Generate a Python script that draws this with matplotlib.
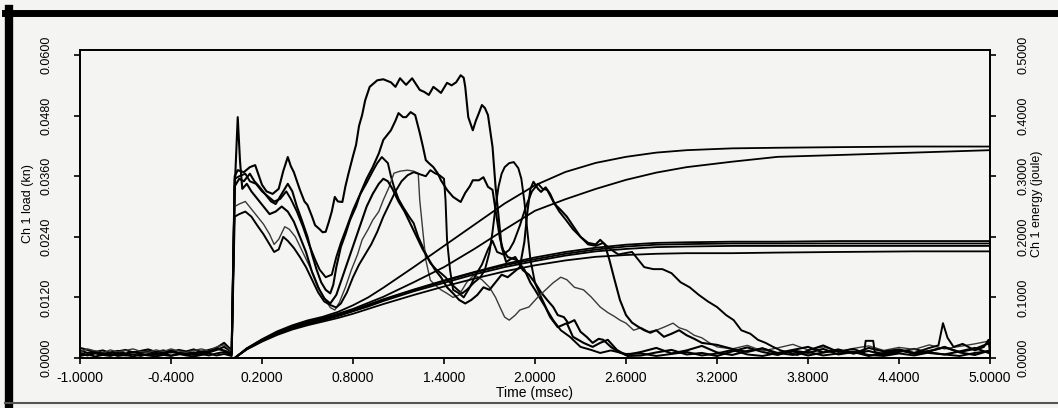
import matplotlib
matplotlib.use("Agg")
import matplotlib.pyplot as plt
import numpy as np
from matplotlib.lines import Line2D
from matplotlib.ticker import FormatStrFormatter

plt.rcParams['font.family'] = ['Liberation Sans', 'DejaVu Sans']

# ---- data (time in msec, load in kN, energy in J) ----
# pre-trigger time grid and baseline noise of each load trace
t_pre = np.linspace(-1.0, 0.0, 21)
pre_a = [0.0015, 0.0010, 0.0013, 0.0008, 0.0011, 0.0014, 0.0009, 0.0012, 0.0010, 0.0013, 0.0008,
         0.0011, 0.0015, 0.0010, 0.0012, 0.0009, 0.0013, 0.0011, 0.0016, 0.0022, 0.0012]
pre_b = [0.0020, 0.0016, 0.0012, 0.0015, 0.0010, 0.0013, 0.0016, 0.0011, 0.0014, 0.0017, 0.0012,
         0.0015, 0.0011, 0.0016, 0.0013, 0.0017, 0.0012, 0.0016, 0.0020, 0.0030, 0.0015]
pre_c = [0.0008, 0.0005, 0.0009, 0.0006, 0.0004, 0.0008, 0.0005, 0.0007, 0.0004, 0.0008, 0.0006,
         0.0009, 0.0005, 0.0007, 0.0010, 0.0006, 0.0008, 0.0005, 0.0009, 0.0012, 0.0006]
pre_d = [0.0012, 0.0018, 0.0014, 0.0010, 0.0016, 0.0012, 0.0015, 0.0018, 0.0013, 0.0011, 0.0016,
         0.0013, 0.0018, 0.0014, 0.0011, 0.0015, 0.0018, 0.0014, 0.0022, 0.0026, 0.0013]
pre_e = [0.0004, 0.0007, 0.0003, 0.0006, 0.0008, 0.0004, 0.0006, 0.0003, 0.0007, 0.0005, 0.0003,
         0.0006, 0.0004, 0.0008, 0.0005, 0.0003, 0.0006, 0.0009, 0.0005, 0.0008, 0.0004]
pre_f = [0.0010, 0.0006, 0.0011, 0.0009, 0.0006, 0.0010, 0.0007, 0.0012, 0.0008, 0.0006, 0.0010,
         0.0008, 0.0012, 0.0009, 0.0007, 0.0011, 0.0009, 0.0013, 0.0018, 0.0015, 0.0009]

# the six load traces after impact: (time, load)
trace_a = [(0.02, 0.0360), (0.04, 0.0372), (0.08, 0.0368), (0.12, 0.0378), (0.155, 0.0382),
           (0.18, 0.0360), (0.20, 0.0343), (0.23, 0.0330), (0.27, 0.0325), (0.31, 0.0335),
           (0.34, 0.0370), (0.37, 0.0398), (0.39, 0.0380), (0.41, 0.0368), (0.45, 0.0333),
           (0.48, 0.0310), (0.50, 0.0303), (0.53, 0.0280), (0.55, 0.0263), (0.58, 0.0255),
           (0.60, 0.0249), (0.62, 0.0250), (0.64, 0.0269), (0.66, 0.0290), (0.68, 0.0319),
           (0.70, 0.0310), (0.73, 0.0309), (0.75, 0.0340), (0.77, 0.0365), (0.80, 0.0400),
           (0.82, 0.0422), (0.84, 0.0460), (0.86, 0.0481), (0.88, 0.0510), (0.91, 0.0537),
           (0.96, 0.0550), (1.00, 0.0552), (1.05, 0.0546), (1.08, 0.0537), (1.11, 0.0554),
           (1.15, 0.0541), (1.19, 0.0554), (1.24, 0.0531), (1.27, 0.0527), (1.30, 0.0521),
           (1.33, 0.0537), (1.36, 0.0530), (1.38, 0.0525), (1.42, 0.0545), (1.45, 0.0540),
           (1.48, 0.0546), (1.51, 0.0560), (1.53, 0.0555), (1.54, 0.0537), (1.56, 0.0477),
           (1.59, 0.0451), (1.61, 0.0470), (1.63, 0.0485), (1.65, 0.0501), (1.67, 0.0495),
           (1.69, 0.0481), (1.72, 0.0418), (1.74, 0.0339), (1.76, 0.0279), (1.78, 0.0220),
           (1.81, 0.0190), (1.84, 0.0196), (1.87, 0.0200), (1.92, 0.0174), (1.96, 0.0165),
           (2.00, 0.0149), (2.04, 0.0130), (2.08, 0.0115), (2.12, 0.0101), (2.15, 0.0085),
           (2.19, 0.0081), (2.22, 0.0069), (2.26, 0.0075), (2.30, 0.0052), (2.34, 0.0042),
           (2.38, 0.0030), (2.42, 0.0038), (2.45, 0.0036), (2.50, 0.0022), (2.55, 0.0012),
           (2.60, 0.0006)]
trace_b = [(0.02, 0.0340), (0.05, 0.0355), (0.08, 0.0350), (0.12, 0.0365), (0.15, 0.0350),
           (0.18, 0.0340), (0.22, 0.0325), (0.26, 0.0310), (0.29, 0.0305), (0.33, 0.0325),
           (0.37, 0.0345), (0.40, 0.0330), (0.43, 0.0300), (0.46, 0.0275), (0.50, 0.0240),
           (0.53, 0.0205), (0.56, 0.0175), (0.59, 0.0150), (0.62, 0.0135), (0.65, 0.0128),
           (0.67, 0.0145), (0.69, 0.0180), (0.72, 0.0220), (0.75, 0.0245), (0.78, 0.0273),
           (0.82, 0.0300), (0.85, 0.0327), (0.89, 0.0355), (0.93, 0.0378), (0.97, 0.0405),
           (1.00, 0.0432), (1.05, 0.0451), (1.08, 0.0470), (1.10, 0.0485), (1.13, 0.0477),
           (1.15, 0.0477), (1.18, 0.0487), (1.21, 0.0481), (1.24, 0.0446), (1.26, 0.0420),
           (1.28, 0.0392), (1.30, 0.0386), (1.33, 0.0378), (1.36, 0.0365), (1.38, 0.0352),
           (1.42, 0.0333), (1.46, 0.0319), (1.51, 0.0309), (1.54, 0.0327), (1.57, 0.0340),
           (1.59, 0.0352), (1.63, 0.0352), (1.66, 0.0358), (1.69, 0.0339), (1.72, 0.0333),
           (1.75, 0.0273), (1.77, 0.0235), (1.79, 0.0214), (1.82, 0.0200), (1.88, 0.0194),
           (1.93, 0.0175), (1.97, 0.0149), (2.00, 0.0135), (2.04, 0.0115), (2.07, 0.0100),
           (2.10, 0.0081), (2.15, 0.0061), (2.21, 0.0069), (2.25, 0.0042), (2.32, 0.0030),
           (2.38, 0.0022), (2.43, 0.0030), (2.48, 0.0036), (2.54, 0.0016), (2.61, 0.0004)]
trace_c = [(0.02, 0.0355), (0.05, 0.0360), (0.09, 0.0365), (0.12, 0.0350), (0.16, 0.0345),
           (0.20, 0.0330), (0.24, 0.0320), (0.28, 0.0310), (0.32, 0.0315), (0.36, 0.0330),
           (0.39, 0.0315), (0.43, 0.0290), (0.47, 0.0260), (0.51, 0.0225), (0.55, 0.0195),
           (0.58, 0.0175), (0.62, 0.0160), (0.66, 0.0165), (0.69, 0.0200), (0.72, 0.0228),
           (0.76, 0.0260), (0.80, 0.0293), (0.84, 0.0320), (0.89, 0.0347), (0.93, 0.0370),
           (0.96, 0.0386), (0.99, 0.0398), (1.01, 0.0392), (1.03, 0.0386), (1.05, 0.0360),
           (1.07, 0.0339), (1.10, 0.0315), (1.13, 0.0299), (1.17, 0.0280), (1.20, 0.0267),
           (1.23, 0.0240), (1.26, 0.0220), (1.29, 0.0200), (1.31, 0.0188), (1.35, 0.0175),
           (1.38, 0.0168), (1.41, 0.0160), (1.44, 0.0149), (1.49, 0.0135), (1.52, 0.0128),
           (1.55, 0.0135), (1.60, 0.0150), (1.64, 0.0160), (1.67, 0.0175), (1.70, 0.0210),
           (1.72, 0.0250), (1.74, 0.0300), (1.76, 0.0340), (1.78, 0.0365), (1.80, 0.0378),
           (1.83, 0.0386), (1.86, 0.0388), (1.89, 0.0376), (1.91, 0.0355), (1.93, 0.0310),
           (1.95, 0.0250), (1.97, 0.0194), (2.00, 0.0149), (2.04, 0.0121), (2.08, 0.0095),
           (2.12, 0.0075), (2.17, 0.0055), (2.23, 0.0042), (2.30, 0.0022), (2.37, 0.0016),
           (2.43, 0.0010), (2.50, 0.0015), (2.60, 0.0008)]
trace_d = [(0.02, 0.0300), (0.05, 0.0305), (0.09, 0.0310), (0.13, 0.0295), (0.17, 0.0280),
           (0.21, 0.0265), (0.25, 0.0245), (0.28, 0.0225), (0.31, 0.0235), (0.35, 0.0260),
           (0.38, 0.0255), (0.42, 0.0240), (0.46, 0.0215), (0.50, 0.0190), (0.54, 0.0165),
           (0.58, 0.0135), (0.62, 0.0115), (0.65, 0.0100), (0.68, 0.0095), (0.71, 0.0110),
           (0.75, 0.0140), (0.79, 0.0175), (0.83, 0.0205), (0.86, 0.0234), (0.90, 0.0255),
           (0.93, 0.0273), (0.97, 0.0290), (1.00, 0.0313), (1.04, 0.0340), (1.07, 0.0366),
           (1.11, 0.0370), (1.16, 0.0372), (1.20, 0.0370), (1.23, 0.0366), (1.24, 0.0313),
           (1.26, 0.0253), (1.28, 0.0194), (1.31, 0.0154), (1.34, 0.0145), (1.38, 0.0135),
           (1.42, 0.0128), (1.46, 0.0120), (1.50, 0.0125), (1.55, 0.0150), (1.60, 0.0165),
           (1.65, 0.0155), (1.70, 0.0140), (1.74, 0.0120), (1.77, 0.0100), (1.80, 0.0081),
           (1.83, 0.0075), (1.87, 0.0085), (1.90, 0.0095), (1.96, 0.0101), (2.02, 0.0121),
           (2.07, 0.0135), (2.12, 0.0149), (2.17, 0.0160), (2.21, 0.0155), (2.26, 0.0140),
           (2.32, 0.0135), (2.37, 0.0121), (2.43, 0.0101), (2.48, 0.0090), (2.52, 0.0083),
           (2.56, 0.0075), (2.60, 0.0069), (2.65, 0.0055), (2.70, 0.0060), (2.75, 0.0052),
           (2.80, 0.0055), (2.85, 0.0061), (2.91, 0.0069), (2.95, 0.0060), (3.00, 0.0055),
           (3.05, 0.0045), (3.10, 0.0040), (3.15, 0.0030), (3.20, 0.0022)]
trace_e = [(0.02, 0.0280), (0.05, 0.0285), (0.09, 0.0290), (0.13, 0.0280), (0.17, 0.0262),
           (0.21, 0.0245), (0.25, 0.0225), (0.28, 0.0210), (0.31, 0.0215), (0.34, 0.0240),
           (0.37, 0.0232), (0.41, 0.0218), (0.45, 0.0200), (0.49, 0.0180), (0.53, 0.0155),
           (0.57, 0.0130), (0.61, 0.0112), (0.65, 0.0105), (0.69, 0.0100), (0.72, 0.0108),
           (0.76, 0.0130), (0.80, 0.0160), (0.84, 0.0185), (0.88, 0.0205), (0.92, 0.0225),
           (0.96, 0.0250), (1.00, 0.0280), (1.04, 0.0305), (1.08, 0.0330), (1.12, 0.0350),
           (1.16, 0.0362), (1.20, 0.0368), (1.24, 0.0364), (1.28, 0.0360), (1.31, 0.0372),
           (1.34, 0.0366), (1.37, 0.0362), (1.40, 0.0355), (1.41, 0.0313), (1.42, 0.0234),
           (1.44, 0.0174), (1.46, 0.0135), (1.50, 0.0128), (1.53, 0.0120), (1.57, 0.0140),
           (1.61, 0.0165), (1.65, 0.0185), (1.69, 0.0215), (1.72, 0.0232), (1.75, 0.0210),
           (1.79, 0.0205), (1.83, 0.0214), (1.86, 0.0230), (1.90, 0.0262), (1.94, 0.0300),
           (1.98, 0.0330), (2.02, 0.0345), (2.05, 0.0335), (2.08, 0.0333), (2.12, 0.0310),
           (2.16, 0.0290), (2.20, 0.0275), (2.25, 0.0255), (2.30, 0.0240), (2.35, 0.0225),
           (2.40, 0.0222), (2.45, 0.0228), (2.50, 0.0215), (2.55, 0.0205), (2.60, 0.0208),
           (2.64, 0.0210), (2.68, 0.0195), (2.72, 0.0180), (2.78, 0.0176), (2.84, 0.0176),
           (2.90, 0.0168), (2.96, 0.0150), (3.02, 0.0140), (3.08, 0.0125), (3.14, 0.0112),
           (3.20, 0.0101), (3.26, 0.0085), (3.31, 0.0075), (3.36, 0.0055), (3.42, 0.0048),
           (3.47, 0.0036), (3.52, 0.0030), (3.57, 0.0022), (3.62, 0.0015), (3.68, 0.0010),
           (3.73, 0.0006), (3.80, 0.0015), (3.90, 0.0025), (4.00, 0.0012), (4.10, 0.0018),
           (4.17, 0.0010), (4.18, 0.0034), (4.23, 0.0034), (4.24, 0.0012), (4.30, 0.0008),
           (4.40, 0.0015), (4.50, 0.0010), (4.60, 0.0020), (4.66, 0.0025), (4.69, 0.0069),
           (4.72, 0.0040), (4.76, 0.0022), (4.82, 0.0028), (4.90, 0.0015), (4.96, 0.0022),
           (4.99, 0.0036), (5.00, 0.0010)]
trace_f = [(0.02, 0.0335), (0.04, 0.0477), (0.055, 0.0390), (0.07, 0.0335), (0.10, 0.0345),
           (0.13, 0.0330), (0.17, 0.0315), (0.21, 0.0300), (0.25, 0.0285), (0.29, 0.0290),
           (0.33, 0.0300), (0.37, 0.0290), (0.41, 0.0270), (0.45, 0.0240), (0.49, 0.0210),
           (0.53, 0.0170), (0.57, 0.0140), (0.61, 0.0118), (0.65, 0.0108), (0.69, 0.0125),
           (0.73, 0.0160), (0.77, 0.0195), (0.81, 0.0230), (0.85, 0.0265), (0.89, 0.0300),
           (0.93, 0.0325), (0.97, 0.0345), (1.00, 0.0355), (1.03, 0.0350), (1.06, 0.0335),
           (1.10, 0.0310), (1.14, 0.0290), (1.18, 0.0265), (1.22, 0.0240), (1.26, 0.0215),
           (1.30, 0.0195), (1.34, 0.0175), (1.38, 0.0160), (1.42, 0.0140), (1.46, 0.0128),
           (1.50, 0.0115), (1.54, 0.0108), (1.58, 0.0115), (1.62, 0.0125), (1.66, 0.0140),
           (1.70, 0.0135), (1.74, 0.0150), (1.78, 0.0165), (1.82, 0.0160), (1.86, 0.0170),
           (1.90, 0.0180), (1.93, 0.0230), (1.95, 0.0290), (1.97, 0.0335), (1.99, 0.0349),
           (2.02, 0.0335), (2.04, 0.0329), (2.07, 0.0338), (2.10, 0.0325), (2.13, 0.0305),
           (2.17, 0.0293), (2.21, 0.0280), (2.25, 0.0262), (2.30, 0.0240), (2.35, 0.0228),
           (2.40, 0.0225), (2.43, 0.0234), (2.46, 0.0225), (2.49, 0.0195), (2.52, 0.0160),
           (2.56, 0.0115), (2.60, 0.0085), (2.64, 0.0070), (2.68, 0.0062), (2.72, 0.0055),
           (2.76, 0.0050), (2.80, 0.0055), (2.85, 0.0042), (2.90, 0.0048), (2.95, 0.0055),
           (3.00, 0.0045), (3.05, 0.0038), (3.10, 0.0030)]

# post-event noise, on a common grid ending at 5.0 msec
t_tail = np.round(np.linspace(2.7, 5.0, 24), 2)
tail_a = [0.0012, 0.0020, 0.0009, 0.0015, 0.0024, 0.0011, 0.0006, 0.0014, 0.0019, 0.0008, 0.0013, 0.0005,
          0.0011, 0.0017, 0.0009, 0.0014, 0.0006, 0.0012, 0.0018, 0.0010, 0.0007, 0.0013, 0.0020, 0.0009]
tail_b = [0.0005, 0.0011, 0.0016, 0.0007, 0.0010, 0.0004, 0.0013, 0.0021, 0.0012, 0.0006, 0.0015, 0.0010,
          0.0018, 0.0007, 0.0012, 0.0004, 0.0010, 0.0016, 0.0008, 0.0013, 0.0022, 0.0011, 0.0006, 0.0015]
tail_c = [0.0009, 0.0004, 0.0008, 0.0012, 0.0005, 0.0009, 0.0016, 0.0007, 0.0004, 0.0010, 0.0006, 0.0012,
          0.0005, 0.0009, 0.0013, 0.0006, 0.0004, 0.0009, 0.0005, 0.0011, 0.0007, 0.0004, 0.0010, 0.0014]
tail_d = [0.0018, 0.0025, 0.0014, 0.0020, 0.0027, 0.0016, 0.0022, 0.0013, 0.0019, 0.0024, 0.0015, 0.0021,
          0.0017, 0.0026, 0.0018, 0.0023, 0.0028, 0.0034]
tail_e = []
tail_f = [0.0026, 0.0018, 0.0012, 0.0019, 0.0010, 0.0016, 0.0022, 0.0011, 0.0015, 0.0009, 0.0020, 0.0013,
          0.0017, 0.0010, 0.0014, 0.0021, 0.0012, 0.0018, 0.0030]

# absorbed energy curves (right axis)
t_energy = [0.02, 0.1, 0.2, 0.3, 0.4, 0.5, 0.6, 0.7, 0.8, 0.9, 1.0, 1.2, 1.4, 1.6, 1.8, 2.0, 2.2,
            2.4, 2.6, 2.8, 3.0, 3.3, 3.6, 4.0, 4.5, 5.0]
energy_1 = [0, 0.016, 0.031, 0.044, 0.054, 0.062, 0.068, 0.076, 0.087, 0.100, 0.116, 0.150, 0.185,
            0.220, 0.255, 0.285, 0.307, 0.322, 0.332, 0.339, 0.343, 0.346, 0.347, 0.348, 0.349, 0.349]
energy_2 = [0, 0.015, 0.030, 0.042, 0.052, 0.060, 0.066, 0.073, 0.081, 0.091, 0.101, 0.125, 0.150,
            0.180, 0.212, 0.243, 0.262, 0.279, 0.294, 0.306, 0.315, 0.324, 0.332, 0.335, 0.339, 0.343]
energy_3 = [0, 0.016, 0.030, 0.042, 0.051, 0.058, 0.064, 0.071, 0.079, 0.088, 0.097, 0.113, 0.128,
            0.142, 0.155, 0.166, 0.175, 0.182, 0.187, 0.190, 0.191, 0.192, 0.192, 0.193, 0.193, 0.193]
energy_4 = [0, 0.015, 0.029, 0.041, 0.050, 0.057, 0.063, 0.070, 0.078, 0.087, 0.096, 0.112, 0.127,
            0.141, 0.153, 0.163, 0.172, 0.179, 0.184, 0.187, 0.188, 0.189, 0.189, 0.189, 0.189, 0.189]
energy_5 = [0, 0.015, 0.028, 0.040, 0.049, 0.056, 0.062, 0.069, 0.077, 0.085, 0.094, 0.110, 0.124,
            0.138, 0.150, 0.160, 0.169, 0.176, 0.180, 0.183, 0.184, 0.185, 0.185, 0.185, 0.185, 0.185]
energy_6 = [0, 0.014, 0.027, 0.038, 0.047, 0.054, 0.060, 0.066, 0.073, 0.081, 0.089, 0.104, 0.118,
            0.131, 0.143, 0.153, 0.161, 0.167, 0.170, 0.172, 0.173, 0.173, 0.174, 0.175, 0.176, 0.176]

x_ticks = [-1.0, -0.4, 0.2, 0.8, 1.4, 2.0, 2.6, 3.2, 3.8, 4.4, 5.0]
load_ticks = [0.0, 0.012, 0.024, 0.036, 0.048, 0.060]
energy_ticks = [0.0, 0.1, 0.2, 0.3, 0.4, 0.5]

bg = '#f4f4f2'
W, H = 1058, 408

fig = plt.figure(figsize=(W / 100, H / 100), dpi=100, facecolor=bg)
ax = fig.add_axes([80 / W, 50 / H, 910 / W, 308 / H], facecolor=bg)
ax2 = ax.twinx()

loads = [(trace_a, pre_a, tail_a, 1.5, 'black'),
         (trace_b, pre_b, tail_b, 1.5, 'black'),
         (trace_c, pre_c, tail_c, 1.4, 'black'),
         (trace_d, pre_d, tail_d, 1.0, '#3a3a3a'),
         (trace_e, pre_e, tail_e, 1.4, 'black'),
         (trace_f, pre_f, tail_f, 1.5, 'black')]
for trace, pre, tail, lw, col in loads:
    tt = [p[0] for p in trace]
    yy = [p[1] for p in trace]
    t = np.concatenate([t_pre, tt, t_tail[len(t_tail) - len(tail):]])
    y = np.concatenate([pre, yy, tail])
    ax.plot(t, y, color=col, lw=lw, solid_joinstyle='round')

for e in [energy_1, energy_2, energy_3, energy_4, energy_5, energy_6]:
    ax2.plot(t_energy, e, color='black', lw=1.3)

ax.set_xlim(-1.0, 5.0)
ax.set_ylim(0, 0.061)
ax2.set_ylim(0, 0.061 * 0.5 / 0.06)
ax.set_xticks(x_ticks)
ax.set_yticks(load_ticks)
ax2.set_yticks(energy_ticks)
ax.xaxis.set_major_formatter(FormatStrFormatter('%.4f'))
ax.yaxis.set_major_formatter(FormatStrFormatter('%.4f'))
ax2.yaxis.set_major_formatter(FormatStrFormatter('%.4f'))

for a in (ax, ax2):
    for s in a.spines.values():
        s.set_linewidth(1.3)
ax.tick_params(axis='x', direction='out', length=4, width=1.2, pad=5, labelsize=10)
ax.tick_params(axis='y', direction='out', length=4, width=1.2, pad=16, labelsize=9, labelrotation=90)
ax2.tick_params(axis='y', direction='out', length=4, width=1.2, pad=16, labelsize=9, labelrotation=90)
for lbl in ax.get_yticklabels() + ax2.get_yticklabels():
    lbl.set_va('center')

ax.text(-52 / 910, 0.5, 'Ch 1 load (kn)', transform=ax.transAxes, rotation=90,
        ha='center', va='center', fontsize=9)
ax2.text(1 + 47 / 910, 0.5, 'Ch 1 energy (joule)', transform=ax.transAxes, rotation=90,
         ha='center', va='center', fontsize=9)
ax.text(0.5, -35 / 308, 'Time (msec)', transform=ax.transAxes, ha='center', va='center', fontsize=10)

# outer frame of the scanned print-out
fig.add_artist(Line2D([9 / W, 9 / W], [1 - 9 / H, 1 - 404 / H], color='black', lw=6, transform=fig.transFigure))
fig.add_artist(Line2D([5 / W, 1.0], [1 - 12.5 / H, 1 - 12.5 / H], color='black', lw=5, transform=fig.transFigure))
fig.add_artist(Line2D([5 / W, 1.0], [1 - 403 / H, 1 - 403 / H], color='#555555', lw=1.5, transform=fig.transFigure))

fig.savefig('out.png', dpi=100, facecolor=bg)
